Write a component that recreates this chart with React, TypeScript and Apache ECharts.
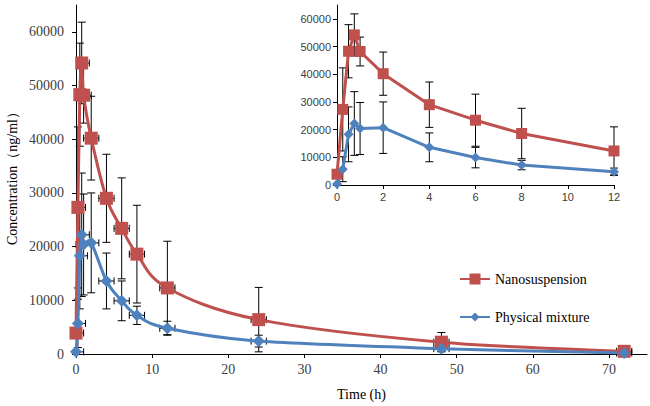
import React, { useEffect, useRef } from "react";
import * as echarts from "echarts";

const times = [0, 0.25, 0.5, 0.75, 1, 2, 4, 6, 8, 12, 24, 48, 72];
const nanoMean = [3900, 27300, 48300, 54200, 48200, 40200, 29000, 23400, 18600, 12300, 6400, 2200, 500];
const nanoSd = [0, 15000, 9600, 7600, 5200, 7800, 8200, 9400, 9100, 8700, 6000, 1800, 300];
const physMean = [400, 5700, 18300, 22200, 20400, 20700, 13600, 9900, 7200, 4800, 2400, 1000, 200];
const physSd = [0, 4500, 9900, 11500, 9400, 9300, 5200, 3700, 1700, 1300, 1100, 500, 100];
const timeErr = 1;

const mainYTicks = [0, 10000, 20000, 30000, 40000, 50000, 60000];
const mainXTicks = [0, 10, 20, 30, 40, 50, 60, 70];
const insetYTicks = [0, 10000, 20000, 30000, 40000, 50000, 60000];
const insetXTicks = [0, 2, 4, 6, 8, 10, 12];

const RED = "#C0504D";
const BLUE = "#4F81BD";
const SERIF = "'Liberation Serif', 'Times New Roman', serif";
const SANS = "'Liberation Sans', Arial, sans-serif";

function errRender(cap: number, withX: boolean) {
  return (params: any, api: any) => {
    const t = api.value(0);
    const m = api.value(1);
    const s = api.value(2);
    const st = { stroke: "#000", lineWidth: 1 };
    const children: any[] = [];
    if (s > 0) {
      const top = api.coord([t, m + s]);
      const lowV = m - s;
      const bot = api.coord([t, Math.max(lowV, 0)]);
      children.push({ type: "line", shape: { x1: top[0], y1: top[1], x2: bot[0], y2: bot[1] }, style: st });
      children.push({ type: "line", shape: { x1: top[0] - cap, y1: top[1], x2: top[0] + cap, y2: top[1] }, style: st });
      if (lowV >= 0) {
        children.push({ type: "line", shape: { x1: bot[0] - cap, y1: bot[1], x2: bot[0] + cap, y2: bot[1] }, style: st });
      }
    }
    if (withX) {
      const lv = t - timeErr;
      const l = api.coord([Math.max(lv, 0), m]);
      const r = api.coord([t + timeErr, m]);
      children.push({ type: "line", shape: { x1: l[0], y1: l[1], x2: r[0], y2: r[1] }, style: st });
      children.push({ type: "line", shape: { x1: r[0], y1: r[1] - 3.5, x2: r[0], y2: r[1] + 3.5 }, style: st });
      if (lv >= 0) {
        children.push({ type: "line", shape: { x1: l[0], y1: l[1] - 3.5, x2: l[0], y2: l[1] + 3.5 }, style: st });
      }
    }
    return { type: "group", children };
  };
}

// Catmull-Rom style smooth segment between neighbouring data points (like Excel's smoothed line)
function curveRender(color: string) {
  return (params: any, api: any) => {
    const p0 = api.coord([api.value(0), api.value(1)]);
    const p1 = api.coord([api.value(2), api.value(3)]);
    const p2 = api.coord([api.value(4), api.value(5)]);
    const p3 = api.coord([api.value(6), api.value(7)]);
    const k = 1 / 6;
    return {
      type: "bezierCurve",
      shape: {
        x1: p1[0], y1: p1[1], x2: p2[0], y2: p2[1],
        cpx1: p1[0] + (p2[0] - p0[0]) * k, cpy1: p1[1] + (p2[1] - p0[1]) * k,
        cpx2: p2[0] - (p3[0] - p1[0]) * k, cpy2: p2[1] - (p3[1] - p1[1]) * k,
      },
      style: { stroke: color, lineWidth: 3, fill: "none", lineCap: "round" },
    };
  };
}

function segments(ts: number[], ys: number[]) {
  const n = ts.length;
  const out: number[][] = [];
  for (let i = 0; i < n - 1; i++) {
    const a = Math.max(i - 1, 0);
    const d = Math.min(i + 2, n - 1);
    out.push([ts[a], ys[a], ts[i], ys[i], ts[i + 1], ys[i + 1], ts[d], ys[d]]);
  }
  return out;
}

const plain = (v: number) => String(v);
const ICON_RECT = "path://M0,5H30V7H0Z M9.5,0.5H20.5V11.5H9.5Z";
const ICON_DIAMOND = "path://M0,5H30V7H0Z M15,1.5L19.5,6L15,10.5L10.5,6Z";

export default function App() {
  const ref = useRef<HTMLDivElement>(null);
  useEffect(() => {
    if (!ref.current) return;
    const chart = echarts.init(ref.current, null, { renderer: "svg" });
    const mainNano = times.map((t, i) => [t, nanoMean[i]]);
    const mainPhys = times.map((t, i) => [t, physMean[i]]);
    const errNano = times.map((t, i) => [t, nanoMean[i], nanoSd[i]]);
    const errPhys = times.map((t, i) => [t, physMean[i], physSd[i]]);
    const insetIdx = times.map((t, i) => i).filter((i) => times[i] <= 12);

    const axisLine = { show: true, lineStyle: { color: "#000", width: 1 } };
    const tick = (vals: number[]) => ({ show: true, inside: false, length: 4, lineStyle: { color: "#000" }, customValues: vals });

    chart.setOption({
      animation: false,
      backgroundColor: "#fff",
      grid: [
        { left: 76, right: 3, top: 5, bottom: 43 },
        { left: 337, right: 36, top: 5, bottom: 221 },
      ],
      xAxis: [
        {
          type: "value", gridIndex: 0, min: 0, max: 75, interval: 10,
          axisLine, axisTick: tick(mainXTicks), splitLine: { show: false },
          axisLabel: { customValues: mainXTicks, formatter: plain, fontFamily: SERIF, fontSize: 14, color: "#404040", margin: 8 },
          name: "Time (h)", nameLocation: "middle", nameGap: 33,
          nameTextStyle: { fontFamily: SERIF, fontSize: 14, color: "#000", fontWeight: "normal" },
        },
        {
          type: "value", gridIndex: 1, min: 0, max: 12, interval: 2,
          axisLine, axisTick: tick(insetXTicks), splitLine: { show: false },
          axisLabel: { customValues: insetXTicks, formatter: plain, fontFamily: SANS, fontSize: 11, color: "#404040", margin: 6 },
        },
      ],
      yAxis: [
        {
          type: "value", gridIndex: 0, min: 0, max: 65000, interval: 10000,
          axisLine, axisTick: tick(mainYTicks), splitLine: { show: false },
          axisLabel: { customValues: mainYTicks, formatter: plain, fontFamily: SERIF, fontSize: 14, color: "#404040", margin: 12 },
        },
        {
          type: "value", gridIndex: 1, min: 0, max: 65000, interval: 10000,
          axisLine, axisTick: tick(insetYTicks), splitLine: { show: false },
          axisLabel: { customValues: insetYTicks, formatter: plain, fontFamily: SANS, fontSize: 11, color: "#404040", margin: 6 },
        },
      ],
      legend: {
        data: [
          { name: "Nanosuspension", icon: ICON_RECT },
          { name: "Physical mixture", icon: ICON_DIAMOND },
        ],
        orient: "vertical", left: 455, top: 267, itemWidth: 30, itemHeight: 12, itemGap: 24,
        textStyle: { fontFamily: SERIF, fontSize: 14, color: "#000" },
      },
      graphic: [
        {
          type: "text", x: 12, y: 175, rotation: Math.PI / 2,
          style: { text: "Concentration（ng/ml）", fontFamily: SERIF, fontSize: 14, fill: "#000", align: "center", verticalAlign: "middle" },
        },
      ],
      series: [
        {
          name: "Nanosuspension", type: "scatter", xAxisIndex: 0, yAxisIndex: 0, data: mainNano,
          symbol: "rect", symbolSize: 13, itemStyle: { color: RED, opacity: 1 }, z: 4,
        },
        {
          name: "Physical mixture", type: "scatter", xAxisIndex: 0, yAxisIndex: 0, data: mainPhys,
          symbol: "diamond", symbolSize: 12, itemStyle: { color: BLUE, opacity: 1 }, z: 4,
        },
        { type: "custom", xAxisIndex: 0, yAxisIndex: 0, data: errNano, renderItem: errRender(4, true), z: 1, encode: { x: 0, y: 1 }, silent: true },
        { type: "custom", xAxisIndex: 0, yAxisIndex: 0, data: errPhys, renderItem: errRender(4, true), z: 1, encode: { x: 0, y: 1 }, silent: true },
        { type: "custom", xAxisIndex: 0, yAxisIndex: 0, data: segments(times, nanoMean), renderItem: curveRender(RED), z: 2, encode: { x: [2, 4], y: [3, 5] }, silent: true },
        { type: "custom", xAxisIndex: 0, yAxisIndex: 0, data: segments(times, physMean), renderItem: curveRender(BLUE), z: 2, encode: { x: [2, 4], y: [3, 5] }, silent: true },
        { type: "custom", xAxisIndex: 1, yAxisIndex: 1, data: insetIdx.map((i) => errNano[i]), renderItem: errRender(4, false), z: 1, encode: { x: 0, y: 1 }, silent: true },
        { type: "custom", xAxisIndex: 1, yAxisIndex: 1, data: insetIdx.map((i) => errPhys[i]), renderItem: errRender(4, false), z: 1, encode: { x: 0, y: 1 }, silent: true },
        {
          type: "line", xAxisIndex: 1, yAxisIndex: 1, data: insetIdx.map((i) => mainNano[i]),
          symbol: "rect", symbolSize: 11, lineStyle: { color: RED, width: 3 }, itemStyle: { color: RED }, z: 3,
        },
        {
          type: "line", xAxisIndex: 1, yAxisIndex: 1, data: insetIdx.map((i) => mainPhys[i]),
          symbol: "diamond", symbolSize: 10, lineStyle: { color: BLUE, width: 3 }, itemStyle: { color: BLUE }, z: 3,
        },
      ],
    });
    return () => chart.dispose();
  }, []);
  return <div ref={ref} style={{ position: "fixed", left: 0, top: 0, width: 650, height: 406 }} />;
}
